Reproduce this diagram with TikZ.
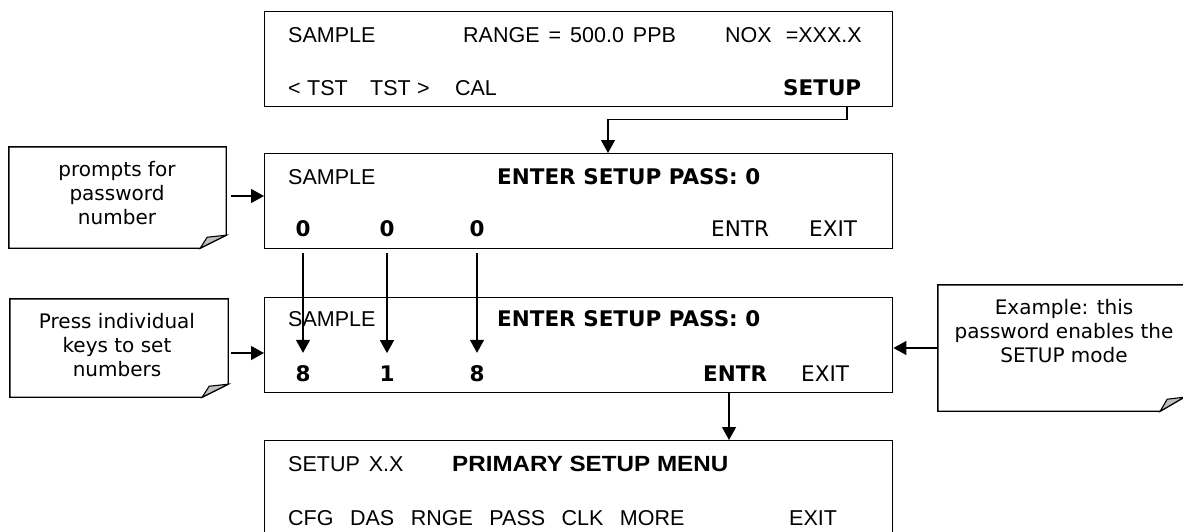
\documentclass[tikz,border=0pt]{standalone}
\usepackage{fontspec}
\usepackage{graphicx}
\usetikzlibrary{arrows.meta,calc}
\newfontfamily\lcdf{Liberation Sans}
\newfontfamily\vrd{DejaVu Sans}
\tikzset{
  scr/.style={draw, line width=1.4pt, minimum width=628pt, minimum height=95pt, inner sep=0pt, anchor=north west},
  lt/.style={anchor=base west, inner sep=0pt, font=\lcdf\fontsize{21.5}{24}\selectfont},
  vt/.style={anchor=base west, inner sep=0pt, font=\vrd\fontsize{21.5}{24}\selectfont},
  vb/.style={anchor=base west, inner sep=0pt, font=\vrd\bfseries\fontsize{21.5}{24}\selectfont},
  dg/.style={anchor=base, inner sep=0pt, font=\vrd\bfseries\fontsize{21.5}{24}\selectfont},
  notebox/.style={draw=none, inner sep=0pt},
  notetxt/.style={align=center, inner sep=0pt, font=\vrd\fontsize{20}{24}\selectfont},
  noteline/.style={line width=1.4pt, fill=white},
  foldfill/.style={line width=1.1pt, fill=black!25},
  arr/.style={line width=1.2pt, -{Triangle[length=13pt,width=14pt]}},
}
\newcommand\notefold[3]{%
  \draw[noteline] (#1.north west) -- (#1.north east) -- ($(#1.south east)+(0,-#3)$)
    -- ($(#1.south east)+(-#2,0)$) -- (#1.south west) -- cycle;
  \draw[foldfill] ($(#1.south east)+(-#2,0)$) -- ($(#1.south east)+(-#2+7,-#3+2)$)
    -- ($(#1.south east)+(0,-#3)$) -- cycle;
}
\begin{document}
\begin{tikzpicture}[x=1pt,y=-1pt]
\useasboundingbox (0,0) rectangle (1183,531);
\fill[white] (0,0) rectangle (1183,531);
\clip (0,0) rectangle (1183,531);

% screens
\node[scr] (b1) at (264,11) {};
\node[scr] (b2) at (264,153) {};
\node[scr] (b3) at (264,297) {};
\node[scr, minimum height=130pt] (b4) at (264,440) {};

% screen 1
\node[lt] (t1a) at (288,42) {SAMPLE};
\node[lt] (t1b) at (463,42) {RANGE\hspace{9pt}=\hspace{9pt}500.0\hspace{9pt}PPB};
\node[lt] (t1c) at (725,42) {NOX\hspace{14pt}=XXX.X};
\node[lt] (t1d) at (288,95) {<\hspace{6.4pt}TST\hspace{22.4pt}TST\hspace{6.4pt}>\hspace{25.4pt}CAL};
\node[vb] (setup) at (783,95) {SETUP};

% screen 2
\node[lt] (t2a) at (288,184) {SAMPLE};
\node[vb] (t2b) at (497,184) {ENTER SETUP PASS: 0};
\node[dg] (z1) at (303,236) {0};
\node[dg] (z2) at (387,236) {0};
\node[dg] (z3) at (477,236) {0};
\node[vt] (t2c) at (711,236) {ENTR};
\node[vt] (t2d) at (809,236) {EXIT};

% screen 3
\node[lt] (t3a) at (288,326) {SAMPLE};
\node[vb] (t3b) at (497,326) {ENTER SETUP PASS: 0};
\node[dg] (e1) at (303,381) {8};
\node[dg] (e2) at (387,381) {1};
\node[dg] (e3) at (477,381) {8};
\node[vb] (t3c) at (703,381) {ENTR};
\node[vt] (t3d) at (801,381) {EXIT};

% screen 4
\node[lt] (t4a) at (288,471) {SETUP\hspace{9pt}X.X};
\node[lt, font=\lcdf\bfseries\fontsize{22}{24}\selectfont] (t4b) at (452,471) {\scalebox{1.1}[1]{PRIMARY SETUP MENU}};
\node[lt] (t4c) at (288,525) {CFG\hspace{16.5pt}DAS\hspace{16.5pt}RNGE\hspace{16.5pt}PASS\hspace{16.5pt}CLK\hspace{16.5pt}MORE};
\node[lt] (t4d) at (789,525) {EXIT};

% notes
\node[notebox, minimum width=217pt, minimum height=101pt] (n1) at (117.5,197.5) {};
\notefold{n1}{26}{13}
\node[notetxt] (n1t) at (117,193) {prompts for\\password\\number};

\node[notebox, minimum width=218pt, minimum height=98pt] (n2) at (119,348) {};
\notefold{n2}{26}{13}
\node[notetxt] (n2t) at (117,345.5) {Press individual\\keys to set\\numbers};

\node[notebox, minimum width=246pt, minimum height=126pt] (rn) at (1061,348) {};
\notefold{rn}{24}{14}
\node[notetxt] (rnt) at (1064,331.5) {Example: this\\password enables the\\SETUP mode};

% connectors
\coordinate (k1) at (847,0);
\coordinate (k2) at (608,0);
\coordinate (k3) at (729,0);
\draw[arr] (b1.south -| k1) -- ++(0,12) -| (b2.north -| k2);
\draw[arr] (b3.south -| k3) -- (b4.north -| k3);

\draw[arr] ($(n1.east)+(5,-1.5)$) -- ($(n1.east -| b2.west)+(0,-1.5)$);
\draw[arr] ($(n2.east)+(3,5)$) -- ($(n2.east -| b3.west)+(0,5)$);
\draw[arr] (rn.west) -- (rn.west -| b3.east);

\draw[arr] ($(z1 |- b2.south)+(0,4)$) -- ($(e1.north)+(0,-12)$);
\draw[arr] ($(z2 |- b2.south)+(0,4)$) -- ($(e2.north)+(0,-12)$);
\draw[arr] ($(z3 |- b2.south)+(0,4)$) -- ($(e3.north)+(0,-12)$);
\end{tikzpicture}
\end{document}
